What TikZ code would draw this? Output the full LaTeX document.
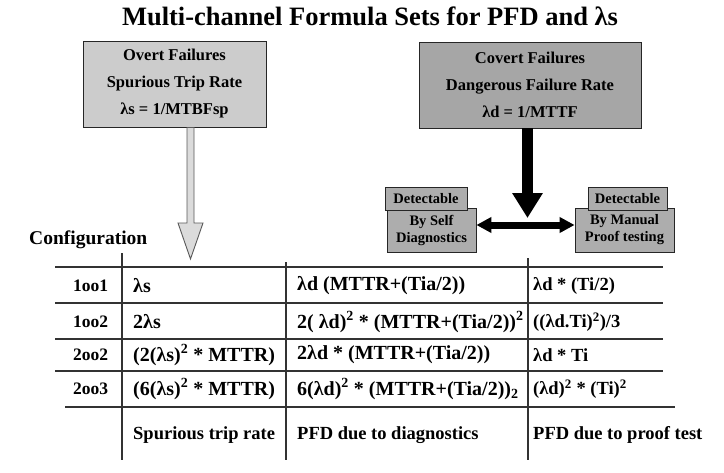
\documentclass[tikz,border=0pt]{standalone}
\usepackage{fontspec}
\setmainfont{Liberation Serif}
\usetikzlibrary{arrows.meta,calc}
\begin{document}
\begin{tikzpicture}[x=1pt,y=-1pt,
  bigbox/.style={draw=black!85, line width=0.9pt, align=center, inner sep=0pt,
    font=\bfseries\fontsize{16.5}{27}\selectfont},
  smallbox/.style={draw=black!85, line width=0.8pt, align=center, inner sep=0pt,
    fill=black!32, font=\bfseries\fontsize{14.5}{17}\selectfont},
  tabbox/.style={draw=black!85, line width=0.8pt, inner sep=0pt,
    fill=black!32, font=\bfseries\fontsize{14.5}{16}\selectfont},
  hollow/.style={draw=black!65, line width=0.9pt, fill=black!14},
  tline/.style={draw=black!80, line width=1.1pt},
  cfg/.style={anchor=west, inner sep=0pt, font=\bfseries\fontsize{17.5}{20}\selectfont},
  cell/.style={anchor=west, inner sep=0pt, font=\bfseries\fontsize{18.5}{20}\selectfont},
  bigcell/.style={anchor=west, inner sep=0pt, font=\bfseries\fontsize{20}{22}\selectfont}
]
\useasboundingbox (0,0) rectangle (724,472);
\fill[white] (0,0) rectangle (724,472);

\node[font=\bfseries\fontsize{26.5}{30}\selectfont] (title) at (370,16) {Multi-channel Formula Sets for PFD and λs};

% top boxes
\node[bigbox, fill=black!20, minimum width=183pt, minimum height=86pt] (ovt) at (174.5,84)
  {Overt Failures\\Spurious Trip Rate\\λs = 1/MTBFsp};
\node[bigbox, fill=black!35, minimum width=222pt, minimum height=86pt] (cov) at (530,85)
  {Covert Failures\\Dangerous Failure Rate\\λd = 1/MTTF};

% hollow arrow from overt box
\coordinate (a1s) at ($(ovt.south)+(16,0)$);
\coordinate (a1t) at (190.5,259);
\draw[hollow] ($(a1s)+(-3.5,0)$) -- ($(a1t)+(-3.5,-36)$) -- ($(a1t)+(-12.5,-36)$) -- (a1t)
  -- ($(a1t)+(12.5,-36)$) -- ($(a1t)+(3.5,-36)$) -- ($(a1s)+(3.5,0)$) -- cycle;

% small boxes
\node[smallbox, minimum width=89pt, minimum height=44pt] (sd) at (431.5,230)
  {By Self\\Diagnostics};
\node[tabbox, minimum width=82pt, minimum height=23pt] (sdt) at (426,198.5) {Detectable};
\node[smallbox, minimum width=99pt, minimum height=44pt] (mp) at (624.5,230)
  {By Manual\\Proof testing};
\node[tabbox, minimum width=79pt, minimum height=23pt] (mpt) at (627.5,198.5) {Detectable};

% black arrow down
\coordinate (dtip) at (527.5,218);
\draw[line width=11pt, black, -{Triangle[width=29pt,length=25pt]}] (cov.south -| dtip) -- (dtip);

% double arrow
\draw[line width=7pt, black, {Triangle[width=15pt,length=15pt]}-{Triangle[width=15pt,length=15pt]}]
  ($(sd.east)+(0,-5)$) -- ($(mp.west)+(0,-5)$);

% Configuration label
\node[anchor=west, inner sep=0pt, font=\bfseries\fontsize{19.5}{22}\selectfont] (conf) at (29,240) {Configuration};

% table lines
\draw[tline] (55,267) -- (663,267);
\draw[tline] (55,303) -- (663,303);
\draw[tline] (55,339) -- (663,339);
\draw[tline] (55,371) -- (663,371);
\draw[tline] (65,407) -- (675,407);
\draw[tline] (122,253) -- (122,460);
\draw[tline] (286,262) -- (286,460);
\draw[tline] (528,258) -- (528,460);

% column 1
\node[cfg] (c11) at (73,286) {1oo1};
\node[cfg] (c12) at (73,322) {1oo2};
\node[cfg] (c13) at (73,355) {2oo2};
\node[cfg] (c14) at (73,389) {2oo3};

% column 2
\node[bigcell] (c21) at (133,286) {λs};
\node[bigcell] (c22) at (133,322) {2λs};
\node[bigcell] (c23) at (133,355) {(2(λs)\textsuperscript{2} * MTTR)};
\node[bigcell] (c24) at (133,389) {(6(λs)\textsuperscript{2} * MTTR)};
\node[cell] (c25) at (133,435) {Spurious trip rate};

% column 3
\node[bigcell] (c31) at (297,286) {λd (MTTR+(Tia/2))};
\node[bigcell] (c32) at (297,322) {2( λd)\textsuperscript{2} * (MTTR+(Tia/2))\textsuperscript{2}};
\node[bigcell] (c33) at (297,355) {2λd * (MTTR+(Tia/2))};
\node[bigcell] (c34) at (297,389) {6(λd)\textsuperscript{2} * (MTTR+(Tia/2))\textsubscript{2}};
\node[cell] (c35) at (297,435) {PFD due to diagnostics};

% column 4
\node[cell] (c41) at (533,286) {λd * (Ti/2)};
\node[cell] (c42) at (533,322) {((λd.Ti)\textsuperscript{2})/3};
\node[cell] (c43) at (533,355) {λd * Ti};
\node[cell] (c44) at (533,389) {(λd)\textsuperscript{2} * (Ti)\textsuperscript{2}};
\node[cell] (c45) at (533,435) {PFD due to proof test};
\end{tikzpicture}
\end{document}
